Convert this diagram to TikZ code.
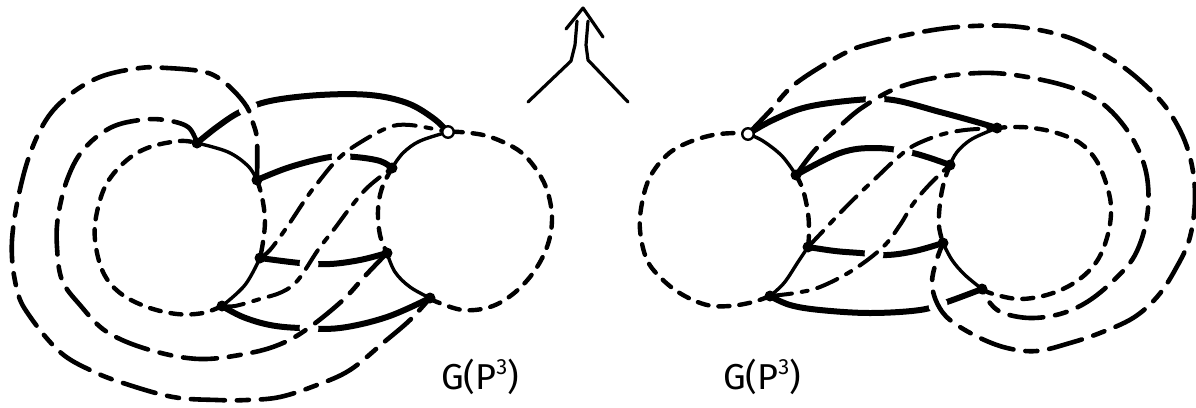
\documentclass[tikz,border=0pt]{standalone}
\usepackage{fontspec}
\setmainfont{Fira Sans}
\newcommand{\supthree}{\raisebox{0.42em}{\fontsize{22}{22}\selectfont 3}}
\begin{document}
\begin{tikzpicture}[x=1pt,y=-1pt,
  thinl/.style={line width=3.4pt, line cap=round},
  thickl/.style={line width=6pt, line cap=round},
  circd/.style={line width=4.4pt, line cap=round, dash pattern=on 11pt off 10pt},
  dashl/.style={line width=4pt, line cap=round, dash pattern=on 22pt off 10pt on 6pt off 10pt},
  loopd/.style={line width=4.6pt, line cap=round, dash pattern=on 34pt off 12pt on 12pt off 12pt},
  arrl/.style={line width=3.2pt, line cap=round, line join=round},
  vtx/.style={circle, fill=black, inner sep=0pt, minimum size=11pt},
  ovtx/.style={circle, draw=black, fill=white, line width=2.4pt, inner sep=0pt, minimum size=11.5pt},
  gapc/.style={fill=white},
  lbl/.style={font=\fontsize{36}{42}\selectfont},
  sm/.style={smooth, tension=0.6}]
\useasboundingbox (0,0) rectangle (1196,407);
% ---------- vertices, left graph
\coordinate (A) at (197,143);
\coordinate (B) at (257,180);
\coordinate (C) at (260,258);
\coordinate (D) at (222,306);
\coordinate (E) at (448,132);
\coordinate (F) at (392,168);
\coordinate (G) at (387,253);
\coordinate (H) at (430,298);
% ---------- vertices, right graph
\coordinate (Ep) at (748,134);
\coordinate (Fp) at (796,175);
\coordinate (Gp) at (808,247);
\coordinate (Hp) at (770,296);
\coordinate (I) at (997,128);
\coordinate (J) at (950,165);
\coordinate (K) at (943,243);
\coordinate (L) at (982,289);
% ---------- left graph cycles
\draw[thinl] plot[sm] coordinates {(A) (228,152) (248,166) (B)};
\draw[circd] plot[sm] coordinates {(B) (262,197) (265,220) (263,242) (C)};
\draw[thinl] plot[sm] coordinates {(C) (245,285) (D)};
\draw[circd] plot[sm] coordinates {(D) (203,313) (177,314) (147,307) (120,293) (103,272) (95,240) (97,212) (107,183) (127,160) (150,147) (180,141) (A)};
\draw[thinl] plot[sm] coordinates {(E) (420,141) (403,153) (F)};
\draw[circd] plot[sm] coordinates {(F) (382,188) (378,210) (380,235) (G)};
\draw[thinl] plot[sm] coordinates {(G) (395,272) (410,287) (H)};
\draw[circd] plot[sm] coordinates {(H) (437,302) (463,310) (490,307) (513,294) (533,273) (547,247) (552,220) (548,193) (538,172) (522,153) (503,142) (483,135) (460,132) (E)};
% ---------- right graph cycles
\draw[thinl] plot[sm] coordinates {(Ep) (763,141) (782,156) (Fp)};
\draw[circd] plot[sm] coordinates {(Fp) (803,190) (808,213) (809,233) (Gp)};
\draw[thinl] plot[sm] coordinates {(Gp) (798,262) (784,283) (Hp)};
\draw[circd] plot[sm] coordinates {(Hp) (753,302) (730,306) (707,305) (683,295) (663,280) (647,260) (640,230) (642,203) (650,177) (667,155) (687,143) (713,135) (737,133) (Ep)};
\draw[thinl] plot[sm] coordinates {(I) (972,139) (957,152) (J)};
\draw[circd] plot[sm] coordinates {(J) (944,182) (940,203) (939,226) (K)};
\draw[thinl] plot[sm] coordinates {(K) (952,260) (965,275) (L)};
\draw[circd] plot[sm] coordinates {(L) (993,294) (1020,299) (1050,294) (1077,281) (1097,261) (1108,234) (1111,207) (1106,183) (1096,160) (1080,143) (1057,133) (1033,128) (1013,127) (I)};
% ---------- thick edges
\draw[thickl] plot[sm] coordinates {(A) (217,127) (240,112) (270,101) (320,95) (370,95) (407,103) (433,118) (E)};
\draw[thickl] plot[sm] coordinates {(B) (290,167) (330,157) (355,157) (380,161) (F)};
\draw[thickl] plot[sm] coordinates {(C) (300,263) (330,264) (360,260) (G)};
\draw[thickl] plot[sm] coordinates {(D) (243,317) (270,325) (300,328) (340,328) (387,317) (H)};
\draw[thickl] plot[sm] coordinates {(Ep) (773,120) (807,107) (857,100) (893,100) (940,112) (973,121) (I)};
\draw[thickl] plot[sm] coordinates {(Fp) (840,153) (875,148) (913,153) (J)};
\draw[thickl] plot[sm] coordinates {(Gp) (835,251) (860,253) (887,255) (915,251) (K)};
\draw[thickl] plot[sm] coordinates {(Hp) (790,305) (820,310) (870,313) (920,310) (947,302) (L)};
% ---------- breaks where a dashed edge passes over a thick one
\foreach \p in {(248,108),(341,157),(309,264),(309,328),(875,100),(903,151),(874,254),(938,305)}
  \fill[gapc] \p circle (9.5);
% ---------- dashed edges, left graph
\draw[dashl] plot[sm] coordinates {(C) (270,250) (287,227) (307,197) (320,180) (335,162) (353,147) (387,128) (410,125) (E)};
\draw[dashl] plot[sm] coordinates {(D) (235,306) (260,299) (282,292) (298,280) (318,250) (335,228) (350,208) (368,187) (F)};
\draw[loopd] plot[sm] coordinates {(A) (188,127) (165,120) (140,120) (110,128) (83,150) (67,180) (58,217) (57,247) (62,280) (80,305) (107,332) (150,350) (200,359) (250,353) (283,343) (310,327) (343,300) (365,276) (G)};
\draw[loopd] plot[sm] coordinates {(B) (257,140) (253,123) (247,107) (233,90) (217,77) (200,71) (167,68) (140,68) (100,77) (67,97) (43,125) (24,173) (12,240) (17,290) (31,318) (60,352) (90,370) (123,383) (173,397) (217,400) (247,400) (280,397) (317,385) (350,370) (383,343) (410,320) (H)};
% ---------- dashed edges, right graph
\draw[dashl] plot[sm] coordinates {(Gp) (825,229) (840,213) (860,193) (877,177) (895,160) (913,146) (940,135) (965,130) (I)};
\draw[dashl] plot[sm] coordinates {(Hp) (795,293) (820,287) (853,270) (883,247) (900,225) (913,204) (930,184) (J)};
\draw[loopd] plot[sm] coordinates {(Ep) (770,111) (795,84) (843,54) (873,43) (927,31) (973,26) (1020,27) (1070,38) (1113,60) (1145,85) (1170,113) (1188,150) (1195,193) (1190,237) (1175,270) (1157,297) (1133,318) (1100,333) (1070,343) (1037,351) (1007,348) (978,337) (950,320) (937,303) (932,283) (936,262) (K)};
\draw[loopd] plot[sm] coordinates {(Fp) (815,150) (840,126) (863,107) (897,88) (940,77) (993,73) (1047,81) (1087,94) (1113,113) (1135,143) (1147,177) (1147,217) (1135,255) (1113,281) (1087,302) (1060,314) (1030,318) (1003,313) (990,303) (L)};
% ---------- vertex dots
\foreach \v in {A,B,C,D,F,G,H,Fp,Gp,Hp,I,J,K,L}
  \node[vtx] (dot\v) at (\v) {};
\node[ovtx] (dotE) at (E) {};
\node[ovtx] (dotEp) at (Ep) {};
% ---------- double arrow at the top
\coordinate (apex) at (583,8);
\coordinate (barbL) at (566,29);
\coordinate (barbR) at (603,37);
\coordinate (legL) at (528,102);
\coordinate (legR) at (628,102);
\draw[arrl] (legL) -- (571,61) -- (575,45) -- (577,21);
\draw[arrl] (legR) -- (588,60) -- (586,45) -- (588,21);
\draw[arrl] (barbL) -- (apex) -- (barbR);
% ---------- labels
\node[lbl] (labL) at (480,377) {G(P\supthree)};
\node[lbl] (labR) at (762,377) {G(P\supthree)};
\end{tikzpicture}
\end{document}
